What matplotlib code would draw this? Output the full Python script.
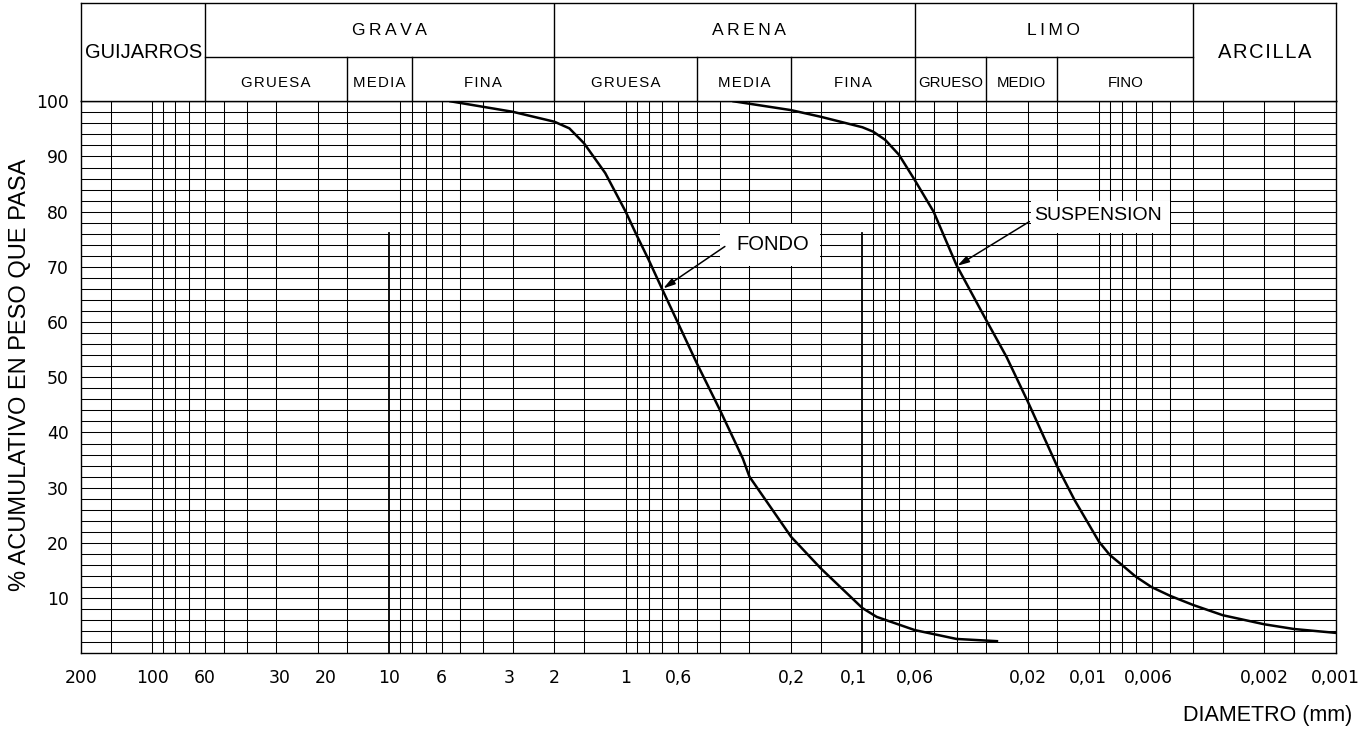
import matplotlib.pyplot as plt
from matplotlib.transforms import ScaledTranslation

plt.rcParams['font.family'] = ['Liberation Sans', 'DejaVu Sans']

# curva granulometrica del material de fondo (diametro mm, % que pasa)
fondo_d = [5.5, 4.0, 3.0, 2.0, 1.73, 1.5, 1.22, 1.0, 0.9, 0.8, 0.7, 0.5, 0.4,
           0.32, 0.3, 0.2, 0.15, 0.1, 0.087, 0.06, 0.04, 0.027]
fondo_p = [100, 99.0, 98.1, 96.3, 95.1, 92.4, 87.0, 80.0, 75.8, 71.3, 65.9, 52.5,
           44.1, 35.3, 32.0, 21.1, 15.4, 8.2, 6.6, 4.2, 2.6, 2.2]

# curva del material en suspension
susp_d = [0.35, 0.2, 0.15, 0.1, 0.09, 0.08, 0.07, 0.06, 0.05, 0.04, 0.03, 0.0246,
          0.02, 0.015, 0.0127, 0.01, 0.009, 0.008, 0.007, 0.006, 0.005, 0.004,
          0.003, 0.002, 0.0015, 0.001]
susp_p = [100, 98.4, 97.2, 95.3, 94.5, 93.0, 90.3, 85.7, 80.0, 70.3, 60.4, 53.7,
          45.6, 33.8, 27.8, 20.2, 17.8, 16.0, 13.9, 12.0, 10.4, 8.75, 6.9, 5.25,
          4.4, 3.7]

# clasificacion por tamanos
grupos = ['GUIJARROS', 'GRAVA', 'ARENA', 'LIMO', 'ARCILLA']
grupos_lim = [200, 60, 2, 0.06, 0.004, 0.001]
grava_sub = ['GRUESA', 'MEDIA', 'FINA']
grava_lim = [60, 15, 8, 2]
arena_sub = ['GRUESA', 'MEDIA', 'FINA']
arena_lim = [2, 0.5, 0.2, 0.06]
limo_sub = ['GRUESO', 'MEDIO', 'FINO']
limo_lim = [0.06, 0.03, 0.015, 0.004]

x_ticks = [200, 100, 60, 30, 20, 10, 6, 3, 2, 1, 0.6, 0.2, 0.1, 0.06, 0.02,
           0.01, 0.006, 0.002, 0.001]
x_labels = ['200', '100', '60', '30', '20', '10', '6', '3', '2', '1', '0,6', '0,2',
            '0,1', '0,06', '0,02', '0,01', '0,006', '0,002', '0,001']
y_ticks = [10, 20, 30, 40, 50, 60, 70, 80, 90, 100]

W, H = 1367, 732
x0, x1 = 81.1, 1335.7      # bordes del papel semilog
y0, y1, ytop = 653.3, 101.3, 3.0

fig = plt.figure(figsize=(W / 100, H / 100), dpi=100)
ax = fig.add_axes([x0 / W, (H - y0) / H, (x1 - x0) / W, (y0 - y1) / H])
hdr = fig.add_axes([x0 / W, (H - y1) / H, (x1 - x0) / W, (y1 - ytop) / H], sharex=ax)

ax.set_xscale('log')
ax.set_xlim(200, 0.001)
ax.set_ylim(0, 100)

# cuadricula: lineas verticales por decada y horizontales cada 2 %
decada = [1, 0.9, 0.8, 0.7, 0.6, 0.5, 0.4, 0.3, 0.2, 0.15]
verticales = [150] + [m * 10 ** k for k in (2, 1, 0, -1, -2) for m in decada]
for v in verticales:
    if v in (10, 0.1):
        continue
    ax.axvline(v, color='k', lw=0.75, zorder=1)
for v in (10, 0.1):
    ax.axvline(v, ymax=0.761, color='k', lw=1.3, zorder=1)
for h in range(2, 100, 2):
    ax.axhline(h, color='k', lw=0.75, zorder=1)

ax.plot(fondo_d, fondo_p, color='k', lw=1.8, zorder=5, solid_joinstyle='round')
ax.plot(susp_d, susp_p, color='k', lw=1.8, zorder=5, solid_joinstyle='round')

# etiquetas con fondo blanco y flecha hacia la curva
ax.fill([0.398, 0.1508, 0.1508, 0.398], [70.15, 70.15, 77.85, 77.85],
        color='white', zorder=3, lw=0)
ax.text(0.24, 74.1, 'FONDO', fontsize=14.5, ha='center', va='center', zorder=4)
ax.annotate('', xy=(0.694, 66.1), xytext=(0.381, 73.7), zorder=6,
            arrowprops=dict(arrowstyle='-|>,head_length=0.7,head_width=0.2',
                            color='k', lw=1.1, shrinkA=0, shrinkB=0))
ax.fill([0.0193, 0.00503, 0.00503, 0.0193], [76.15, 76.15, 81.85, 81.85],
        color='white', zorder=3, lw=0)
ax.text(0.0101, 79.3, 'SUSPENSION', fontsize=14, ha='center', va='center', zorder=4)
ax.annotate('', xy=(0.0397, 70.2), xytext=(0.0197, 78.2), zorder=6,
            arrowprops=dict(arrowstyle='-|>,head_length=0.7,head_width=0.2',
                            color='k', lw=1.1, shrinkA=0, shrinkB=0))

ax.set_xticks(x_ticks)
ax.set_xticklabels(x_labels, family='DejaVu Sans', fontsize=12.4)
ax.minorticks_off()
ax.set_yticks(y_ticks)
ax.set_yticklabels([str(t) for t in y_ticks], family='DejaVu Sans', fontsize=12.4)
ax.tick_params(length=0, pad=11)
ax.tick_params(axis='y', pad=9)
for s in ax.spines.values():
    s.set_linewidth(1.0)

# pequenos corrimientos horizontales (px) de algunos rotulos del eje x
corrimiento = {'20': 8, '30': 4, '3': -4, '0,1': -9, '0,01': -11, '0,006': -3}
for lbl in ax.get_xticklabels():
    dx = corrimiento.get(lbl.get_text(), 0)
    if dx:
        lbl.set_transform(lbl.get_transform()
                          + ScaledTranslation(dx / 100, 0, fig.dpi_scale_trans))
for s in ax.spines.values():
    s.set_linewidth(1.0)

# cabecera con la clasificacion
hdr.set_ylim(0, 1)
hdr.tick_params(length=0, labelbottom=False, labelleft=False)
for s in hdr.spines.values():
    s.set_linewidth(1.0)
ymid = 0.4476
for v in grupos_lim[1:-1]:
    hdr.axvline(v, color='k', lw=1.0)
hdr.plot([grupos_lim[1], grupos_lim[4]], [ymid, ymid], color='k', lw=1.0)
for lims in (grava_lim, arena_lim, limo_lim):
    for v in lims[1:-1]:
        hdr.axvline(v, ymax=ymid, color='k', lw=1.0)


def centro(a, b):
    return (a * b) ** 0.5


def espaciado(s, sep):
    return sep.join(s)


grupos_x = [109, 10, 0.3, 0.0155, 0.002]
for g, xc in zip(grupos, grupos_x):
    if g in ('GUIJARROS', 'ARCILLA'):
        txt = g if g == 'GUIJARROS' else espaciado(g, '\u200a')
        hdr.text(xc, 0.50, txt, fontsize=14.5, ha='center', va='center')
    else:
        hdr.text(xc, 0.725, espaciado(g, '\u2009'), fontsize=12.6,
                 ha='center', va='center')
for subs, lims, sep in ((grava_sub, grava_lim, '\u200a'),
                        (arena_sub, arena_lim, '\u200a'),
                        (limo_sub, limo_lim, '')):
    for i, s in enumerate(subs):
        hdr.text(centro(lims[i], lims[i + 1]), 0.19, espaciado(s, sep),
                 fontsize=10.8, ha='center', va='center')

fig.text(20 / W, (H - 375) / H, '% ACUMULATIVO EN PESO QUE PASA', rotation=90,
         fontsize=17, ha='center', va='center')
fig.text(1352 / W, (H - 716) / H, 'DIAMETRO (mm)', fontsize=15.5,
         ha='right', va='center')

fig.savefig('out.png', dpi=100, facecolor='white')
